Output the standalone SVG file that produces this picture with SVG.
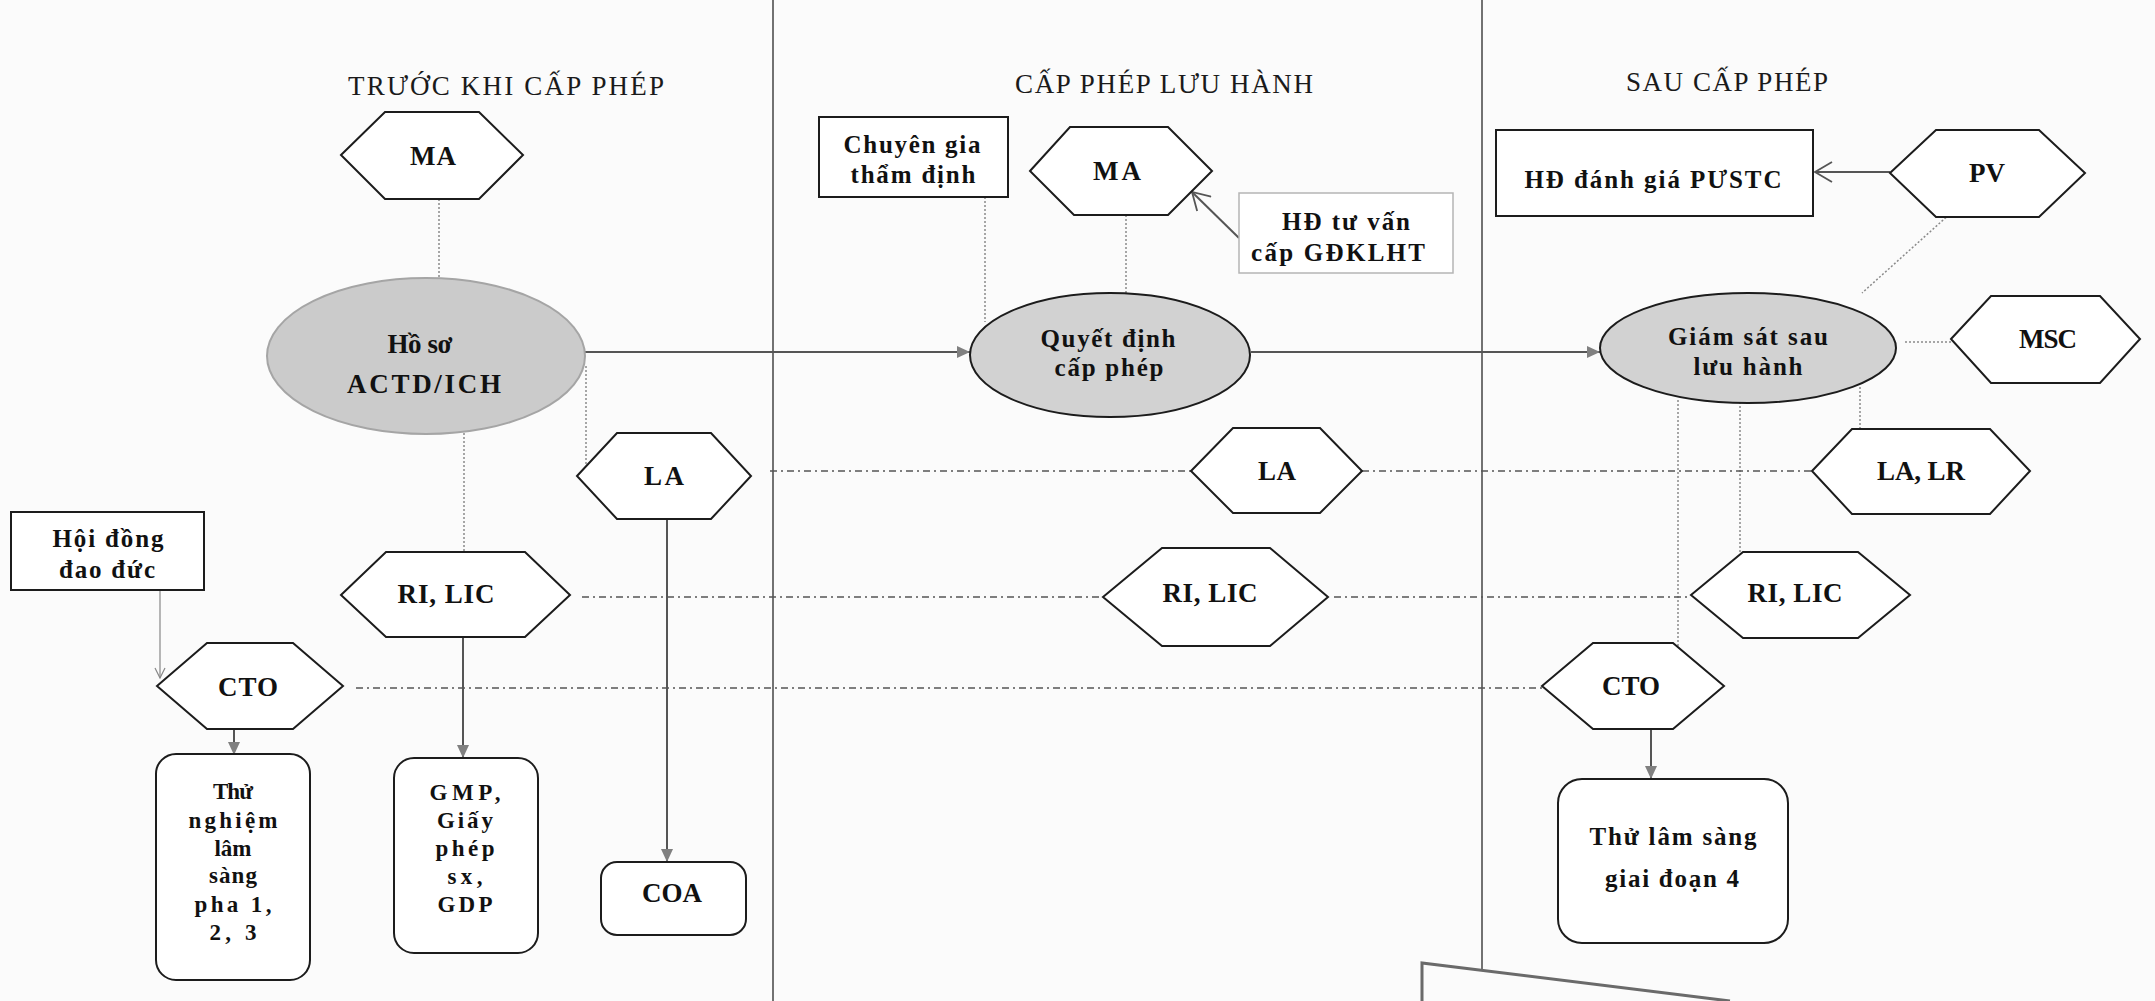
<svg xmlns="http://www.w3.org/2000/svg" width="2155" height="1001" viewBox="0 0 2155 1001">
<defs>
<style>
.bg{fill:#fbfbfb}
.t{font-family:"Liberation Serif","Times New Roman",serif;font-weight:bold;font-size:25px;fill:#111;text-anchor:middle}
.tl{font-size:27px}
.ts{font-size:23px}
.title{font-family:"Liberation Serif","Times New Roman",serif;font-size:27px;fill:#1a1a1a;text-anchor:middle}
.hex{fill:#fff;stroke:#1c1c1c;stroke-width:2}
.box{fill:#fff;stroke:#1c1c1c;stroke-width:2}
.lbox{fill:#fff;stroke:#b5b5b5;stroke-width:1.5}
.ell{fill:#d2d2d2;stroke:#1c1c1c;stroke-width:2}
.ell0{fill:#cbcbcb;stroke:#a5a5a5;stroke-width:2}
.arrow{stroke:#555;stroke-width:2;fill:none}
.thin{stroke:#888;stroke-width:1.2;fill:none}
.dot{stroke:#8a8a8a;stroke-width:1.5;stroke-dasharray:2 2;fill:none}
.dashdot{stroke:#555;stroke-width:1.5;stroke-dasharray:7 4 2 4;fill:none}
.div{stroke:#444;stroke-width:1.5;fill:none}
.edge{stroke:#6a6a6a;stroke-width:3;fill:none}
</style>
<marker id="af" markerUnits="userSpaceOnUse" markerWidth="14" markerHeight="12" refX="13" refY="6" orient="auto">
<path d="M0,0 L13,6 L0,12 z" fill="#808080"/>
</marker>
<marker id="ao" markerUnits="userSpaceOnUse" markerWidth="20" markerHeight="22" refX="18" refY="11" orient="auto">
<path d="M1,1 L18,11 L1,21" fill="none" stroke="#555" stroke-width="1.8"/>
</marker>
<marker id="as" markerUnits="userSpaceOnUse" markerWidth="12" markerHeight="12" refX="11" refY="6" orient="auto">
<path d="M1,1 L11,6 L1,11" fill="none" stroke="#888" stroke-width="1.2"/>
</marker>
</defs>
<rect class="bg" x="0" y="0" width="2155" height="1001"/>

<g id="dividers">
<line class="div" x1="773" y1="0" x2="773" y2="1001"/>
<line class="div" x1="1482" y1="0" x2="1482" y2="971"/>
<polyline class="edge" points="1422,1001 1422,963 1730,1001"/>
</g>

<g id="titles">
<text class="title" x="506" y="95" textLength="316">TRƯỚC KHI CẤP PHÉP</text>
<text class="title" x="1164" y="93" textLength="298">CẤP PHÉP LƯU HÀNH</text>
<text class="title" x="1727" y="91" textLength="202">SAU CẤP PHÉP</text>
</g>

<g id="connectors">
<line class="arrow" x1="585" y1="352" x2="970" y2="352" marker-end="url(#af)"/>
<line class="arrow" x1="1251" y1="352" x2="1600" y2="352" marker-end="url(#af)"/>
<line class="dot" x1="439" y1="199" x2="439" y2="279"/>
<line class="dot" x1="464" y1="433" x2="464" y2="552"/>
<line class="dot" x1="586" y1="366" x2="586" y2="466"/>
<line class="dot" x1="985" y1="197" x2="985" y2="322"/>
<line class="dot" x1="1126" y1="215" x2="1126" y2="293"/>
<line class="arrow" x1="1239" y1="238" x2="1192" y2="192" marker-end="url(#ao)"/>
<line class="arrow" x1="1890" y1="172" x2="1815" y2="172" marker-end="url(#ao)"/>
<line class="dot" x1="1952" y1="212" x2="1862" y2="293"/>
<line class="dot" x1="1905" y1="342" x2="1951" y2="342"/>
<line class="dot" x1="1860" y1="387" x2="1860" y2="429"/>
<line class="dot" x1="1740" y1="402" x2="1740" y2="552"/>
<line class="dot" x1="1678" y1="400" x2="1678" y2="648"/>
<line class="dashdot" x1="770" y1="471" x2="1191" y2="471"/>
<line class="dashdot" x1="1362" y1="471" x2="1812" y2="471"/>
<line class="dashdot" x1="582" y1="597" x2="1103" y2="597"/>
<line class="dashdot" x1="1334" y1="597" x2="1691" y2="597"/>
<line class="dashdot" x1="356" y1="688" x2="1542" y2="688"/>
<line class="thin" x1="160" y1="590" x2="160" y2="678" marker-end="url(#as)"/>
<line class="arrow" x1="234" y1="729" x2="234" y2="755" marker-end="url(#af)"/>
<line class="arrow" x1="463" y1="637" x2="463" y2="758" marker-end="url(#af)"/>
<line class="arrow" x1="667" y1="519" x2="667" y2="862" marker-end="url(#af)"/>
<line class="arrow" x1="1651" y1="729" x2="1651" y2="779" marker-end="url(#af)"/>
</g>

<g id="ma-left">
<polygon class="hex" points="341,155 385,112 479,112 523,155 479,199 385,199"/>
<text class="t tl" x="433" y="165" textLength="46">MA</text>
</g>
<g id="ho-so">
<ellipse class="ell0" cx="426" cy="356" rx="159" ry="78"/>
<text class="t tl" x="420" y="353" textLength="65">Hồ sơ</text>
<text class="t tl" x="424" y="393" textLength="154">ACTD/ICH</text>
</g>
<g id="la-left">
<polygon class="hex" points="577,476 617,433 711,433 751,476 711,519 617,519"/>
<text class="t tl" x="664" y="485" textLength="40">LA</text>
</g>
<g id="rilic-left">
<polygon class="hex" points="341,595 386,552 525,552 570,595 525,637 386,637"/>
<text class="t tl" x="446" y="603" textLength="97">RI, LIC</text>
</g>
<g id="cto-left">
<polygon class="hex" points="157,686 207,643 293,643 343,686 293,729 207,729"/>
<text class="t tl" x="248" y="696" textLength="60">CTO</text>
</g>
<g id="hoi-dong">
<rect class="box" x="11" y="512" width="193" height="78"/>
<text class="t" x="108" y="547" textLength="111">Hội đồng</text>
<text class="t" x="107" y="578" textLength="96">đao đức</text>
</g>
<g id="thu-nghiem">
<rect class="box" x="156" y="754" width="154" height="226" rx="20"/>
<text class="t ts" x="233" y="799" textLength="40">Thử</text>
<text class="t ts" x="233" y="828" textLength="89">nghiệm</text>
<text class="t ts" x="233" y="856" textLength="37">lâm</text>
<text class="t ts" x="233" y="883" textLength="48">sàng</text>
<text class="t ts" x="233" y="912" textLength="77">pha 1,</text>
<text class="t ts" x="233" y="940" textLength="47">2, 3</text>
</g>
<g id="gmp">
<rect class="box" x="394" y="758" width="144" height="195" rx="20"/>
<text class="t ts" x="465" y="800" textLength="71">GMP,</text>
<text class="t ts" x="465" y="828" textLength="56">Giấy</text>
<text class="t ts" x="465" y="856" textLength="59">phép</text>
<text class="t ts" x="465" y="884" textLength="35">sx,</text>
<text class="t ts" x="465" y="912" textLength="55">GDP</text>
</g>
<g id="coa">
<rect class="box" x="601" y="862" width="145" height="73" rx="16"/>
<text class="t tl" x="672" y="902" textLength="60">COA</text>
</g>

<g id="chuyen-gia">
<rect class="box" x="819" y="117" width="189" height="80"/>
<text class="t" x="912" y="153" textLength="137">Chuyên gia</text>
<text class="t" x="913" y="183" textLength="125">thẩm định</text>
</g>
<g id="ma-mid">
<polygon class="hex" points="1030,171 1070,127 1168,127 1212,171 1168,215 1074,215"/>
<text class="t tl" x="1117" y="180" textLength="48">MA</text>
</g>
<g id="hd-tu-van">
<rect class="lbox" x="1239" y="193" width="214" height="80"/>
<text class="t" x="1346" y="230" textLength="128">HĐ tư vấn</text>
<text class="t" x="1338" y="261" textLength="174">cấp GĐKLHT</text>
</g>
<g id="quyet-dinh">
<ellipse class="ell" cx="1110" cy="355" rx="140" ry="62"/>
<text class="t" x="1108" y="347" textLength="135">Quyết định</text>
<text class="t" x="1109" y="376" textLength="109">cấp phép</text>
</g>
<g id="la-mid">
<polygon class="hex" points="1191,471 1233,428 1320,428 1362,471 1320,513 1233,513"/>
<text class="t tl" x="1277" y="480" textLength="38">LA</text>
</g>
<g id="rilic-mid">
<polygon class="hex" points="1103,597 1162,548 1270,548 1328,597 1270,646 1162,646"/>
<text class="t tl" x="1210" y="602" textLength="95">RI, LIC</text>
</g>

<g id="hd-danh-gia">
<rect class="box" x="1496" y="130" width="317" height="86"/>
<text class="t" x="1653" y="188" textLength="257">HĐ đánh giá PƯSTC</text>
</g>
<g id="pv">
<polygon class="hex" points="1890,173 1936,130 2039,130 2085,173 2039,217 1936,217"/>
<text class="t tl" x="1987" y="182" textLength="36">PV</text>
</g>
<g id="giam-sat">
<ellipse class="ell" cx="1748" cy="348" rx="148" ry="55"/>
<text class="t" x="1748" y="345" textLength="160">Giám sát sau</text>
<text class="t" x="1748" y="375" textLength="109">lưu hành</text>
</g>
<g id="msc">
<polygon class="hex" points="1951,339 1991,296 2100,296 2140,339 2100,383 1991,383"/>
<text class="t tl" x="2048" y="348" textLength="58">MSC</text>
</g>
<g id="la-lr">
<polygon class="hex" points="1812,471 1852,429 1990,429 2030,471 1990,514 1852,514"/>
<text class="t tl" x="1921" y="480" textLength="88">LA, LR</text>
</g>
<g id="rilic-right">
<polygon class="hex" points="1691,595 1743,552 1858,552 1910,595 1858,638 1743,638"/>
<text class="t tl" x="1795" y="602" textLength="95">RI, LIC</text>
</g>
<g id="cto-right">
<polygon class="hex" points="1542,686 1593,643 1673,643 1724,686 1673,729 1593,729"/>
<text class="t tl" x="1631" y="695" textLength="58">CTO</text>
</g>
<g id="thu-lam-sang">
<rect class="box" x="1558" y="779" width="230" height="164" rx="24"/>
<text class="t" x="1673" y="845" textLength="167">Thử lâm sàng</text>
<text class="t" x="1672" y="887" textLength="134">giai đoạn 4</text>
</g>
</svg>
